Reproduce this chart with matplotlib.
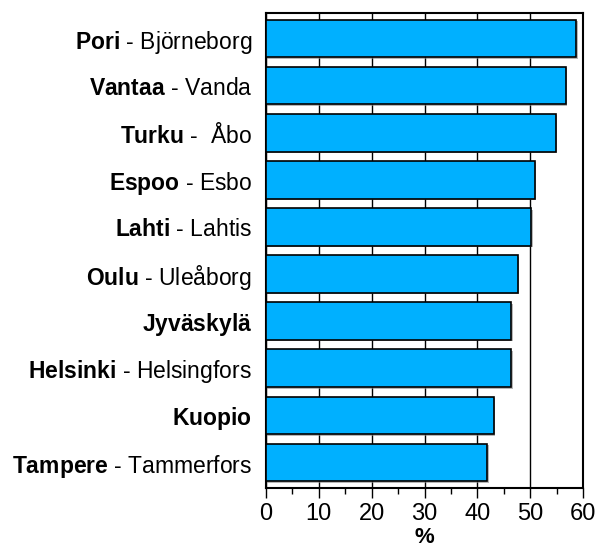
import numpy as np
import matplotlib.pyplot as plt
import matplotlib.patheffects as pe
from matplotlib.ticker import MultipleLocator

plt.rcParams["font.family"] = "Liberation Sans"
plt.rcParams["mathtext.fontset"] = "custom"
plt.rcParams["mathtext.rm"] = "Liberation Sans"
plt.rcParams["mathtext.bf"] = "Liberation Sans:bold"

fi_names = ["Pori", "Vantaa", "Turku", "Espoo", "Lahti", "Oulu",
            "Jyväskylä", "Helsinki", "Kuopio", "Tampere"]
sv_names = ["Björneborg", "Vanda", " Åbo", "Esbo", "Lahtis", "Uleåborg",
            "", "Helsingfors", "", "Tammerfors"]
values = [58.7, 56.7, 54.8, 50.9, 50.2, 47.7, 46.4, 46.4, 43.1, 41.9]

labels = []
for fi, sv in zip(fi_names, sv_names):
    if sv:
        labels.append(r"$\mathbf{" + fi + "}$ - " + sv)
    else:
        labels.append(r"$\mathbf{" + fi + "}$")

fig = plt.figure(figsize=(5.97, 5.51), dpi=100)
ax = fig.add_axes([0.4456, 0.1143, 0.531, 0.862])

y = np.arange(len(values))
bars = ax.barh(y, values, height=0.8, color="#00B0FF", edgecolor="black",
               linewidth=1.2, zorder=3)
for b in bars:
    b.set_path_effects([pe.SimplePatchShadow(offset=(1, -1), shadow_rgbFace="#888888", alpha=0.6),
                        pe.Normal()])

ax.set_xlim(0, 60)
ax.set_ylim(len(values) - 0.46, -0.54)
ax.set_yticks(y)
ax.set_yticklabels(labels, fontsize=16.5)
ax.tick_params(axis="y", length=0, pad=10)

ax.xaxis.set_major_locator(MultipleLocator(10))
ax.xaxis.set_minor_locator(MultipleLocator(5))
ax.tick_params(axis="x", which="major", direction="out", length=7, width=1, labelsize=17, pad=4)
ax.tick_params(axis="x", which="minor", direction="out", length=4, width=1)
ax.grid(axis="x", color="black", linewidth=1, zorder=0)
ax.set_axisbelow(True)

for s in ax.spines.values():
    s.set_linewidth(1.5)

ax.set_xlabel("%", fontsize=16, fontweight="bold", labelpad=1)

fig.savefig("out.png", dpi=100)
